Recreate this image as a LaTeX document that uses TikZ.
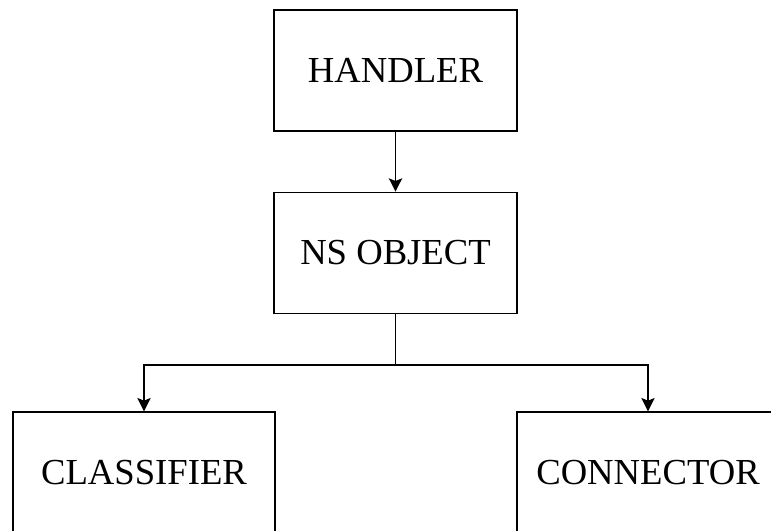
\documentclass[tikz,border=0pt]{standalone}
\usepackage{fontspec}
\setmainfont{Liberation Serif}
\usetikzlibrary{arrows.meta,positioning}

\tikzset{
  block/.style={draw, line width=1pt, minimum width=182.25pt, minimum height=90.75pt,
    inner sep=0pt, font=\fontsize{27.5}{32}\selectfont},
  wideblock/.style={block, minimum width=196.5pt},
  flow/.style={line width=1pt, -{Stealth[length=10pt,width=10pt,inset=2pt]}}
}

\begin{document}
\begin{tikzpicture}[x=0.75pt, y=-0.75pt]
    \useasboundingbox (0,0) rectangle (771,531);

    % --- top of the chain ---
    \node[block] (handler) at (395.5,70.5) {HANDLER};
    \node[block, below=45pt of handler] (nsobj) {NS OBJECT};
    \draw[flow] (handler) -- (nsobj);

    % --- the two leaves ---
    \node[wideblock] (classifier) at (144,472.5) {CLASSIFIER};
    \node[wideblock] (connector) at (648,472.5) {CONNECTOR};

    \coordinate[below=38.25pt of nsobj] (fork);
    \draw[line width=1pt] (nsobj) -- (fork);
    \draw[flow] (fork) -| (classifier);
    \draw[flow] (fork) -| (connector);
  \end{tikzpicture}
\end{document}
